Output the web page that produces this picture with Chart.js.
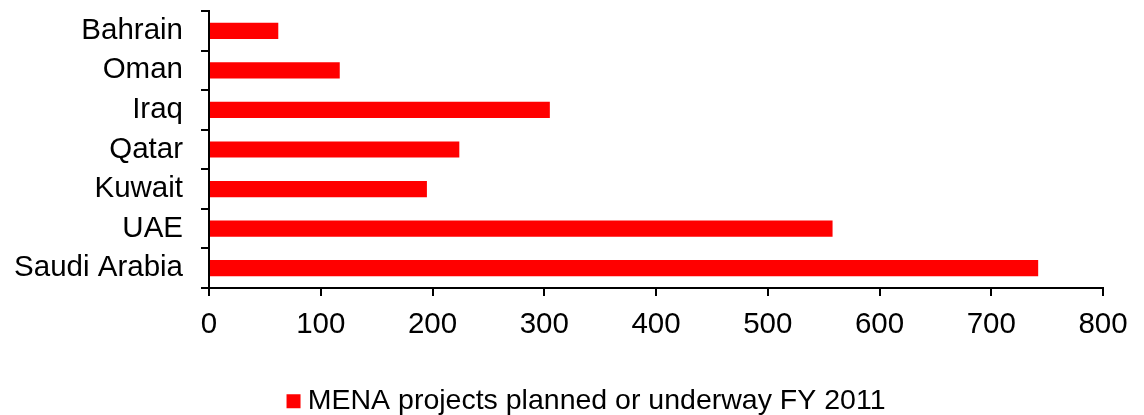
<!DOCTYPE html>
<html>
<head>
<meta charset="utf-8">
<script src="https://cdn.jsdelivr.net/npm/chart.js@4/dist/chart.umd.min.js"></script>
<style>
  html, body { margin: 0; padding: 0; background: #ffffff; }
  #wrap { width: 1144px; height: 415px; position: relative; }
</style>
</head>
<body>
<div id="wrap"><canvas id="chart" width="1144" height="415"></canvas></div>
<script>
// Project counts by country (MENA, FY 2011)
const countries = ['Bahrain', 'Oman', 'Iraq', 'Qatar', 'Kuwait', 'UAE', 'Saudi Arabia'];
const projects = [62, 117, 305, 224, 195, 558, 742];
const seriesName = 'MENA projects planned or underway FY 2011';
const xTicks = [0, 100, 200, 300, 400, 500, 600, 700, 800];

const FAMILY = '"Liberation Sans", Arial, sans-serif';
const AXIS_FONT = { family: FAMILY, size: 29.5 };
const LEGEND_FONT = { family: FAMILY, size: 28.5 };

// Move the legend's left edge so the centred item sits a little right of centre
const legendShift = {
  id: 'legendShift',
  beforeDraw(chart) {
    if (chart.legend) { chart.legend.left = 76; }
  }
};

new Chart(document.getElementById('chart'), {
  type: 'bar',
  data: {
    labels: countries,
    datasets: [{
      label: seriesName,
      data: projects,
      backgroundColor: '#ff0000',
      borderWidth: 0,
      barPercentage: 0.41,
      categoryPercentage: 1.0
    }]
  },
  plugins: [legendShift],
  options: {
    indexAxis: 'y',
    responsive: false,
    animation: false,
    devicePixelRatio: 1,
    layout: { padding: { top: 11, right: 41, left: 0, bottom: 0 } },
    scales: {
      x: {
        min: 0,
        max: 800,
        afterBuildTicks: (axis) => { axis.ticks = xTicks.map(v => ({ value: v })); },
        afterFit: (axis) => { axis.height = 97; axis.paddingLeft = 0; axis.paddingRight = 0; },
        border: { display: true, color: '#000000', width: 2 },
        grid: { drawOnChartArea: false, color: '#000000', lineWidth: 2, tickLength: 8 },
        ticks: { color: '#000000', font: AXIS_FONT, padding: 11, maxRotation: 0, autoSkip: false }
      },
      y: {
        afterFit: (axis) => { axis.width = 209; axis.paddingTop = 0; axis.paddingBottom = 0; },
        border: { display: true, color: '#000000', width: 2 },
        grid: { drawOnChartArea: false, color: '#000000', lineWidth: 2, tickLength: 8, offset: true },
        ticks: { color: '#000000', font: AXIS_FONT, padding: 18, autoSkip: false }
      }
    },
    plugins: {
      legend: {
        position: 'bottom',
        maxHeight: 30,
        labels: {
          color: '#000000',
          font: LEGEND_FONT,
          usePointStyle: true,
          pointStyle: 'rect',
          boxWidth: 0.01,
          boxHeight: 14,
          padding: 2
        }
      },
      tooltip: { enabled: false }
    }
  }
});
</script>
</body>
</html>
